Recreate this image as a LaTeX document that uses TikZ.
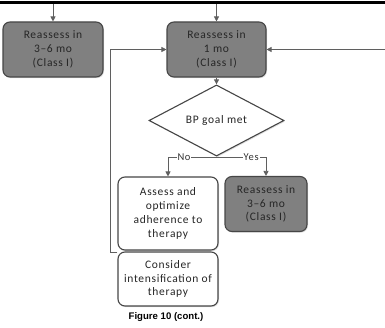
\documentclass[tikz,border=0pt]{standalone}
\usepackage{fontspec}
\setmainfont{Carlito}[LetterSpace=6]
\setsansfont{Liberation Sans}
\usetikzlibrary{shapes.geometric,arrows.meta,shadows}
\definecolor{boxgray}{RGB}{128,128,128}
\definecolor{edge}{RGB}{70,70,70}
\definecolor{wire}{RGB}{95,95,95}
\begin{document}
\begin{tikzpicture}[x=1pt,y=-1pt,
  box/.style={draw=edge,line width=1.1pt,rounded corners=7pt,align=center,inner sep=0pt,
    font=\fontsize{11.5}{13.8}\selectfont,text=black!85,
    drop shadow={shadow xshift=1pt,shadow yshift=-1.2pt,opacity=0.25}},
  darkbox/.style={box,fill=boxgray},
  lightbox/.style={box,fill=white},
  arr/.style={draw=wire,line width=0.8pt,-{Triangle[length=5pt,width=5pt]}},
  wire/.style={draw=wire,line width=0.8pt},
  lab/.style={fill=white,inner sep=1pt,font=\fontsize{10.5}{12}\selectfont,text=black!80}]
\useasboundingbox (0,0) rectangle (385,328);
\fill[black] (0,1) rectangle (385,4.5);
\node[darkbox,minimum width=100pt,minimum height=55pt] (left) at (53,49.5) {Reassess in\\3–6 mo\\(Class I)};
\node[darkbox,minimum width=99pt,minimum height=55pt] (center) at (216.5,49.5) {Reassess in\\1 mo\\(Class I)};
\node[diamond,draw=edge,line width=1.1pt,fill=white,minimum width=135pt,minimum height=53pt,inner sep=0pt,
  font=\fontsize{11.5}{13}\selectfont,text=black!85,drop shadow={shadow xshift=1pt,shadow yshift=-1.2pt,opacity=0.25}] (goal) at (216.5,120.5) {BP goal met};
\node[lightbox,minimum width=100pt,minimum height=73pt] (assess) at (168,213.5) {Assess and\\optimize\\adherence to\\therapy};
\node[darkbox,minimum width=82pt,minimum height=55pt] (right) at (266,204) {Reassess in\\3–6 mo\\(Class I)};
\node[lightbox,minimum width=100pt,minimum height=54pt] (consider) at (168,279) {Consider\\intensification of\\therapy};
\node[font=\sffamily\bfseries\fontsize{9.6}{11}\selectfont] (cap) at (166,317) {Figure 10 (cont.)};
\coordinate (topL) at (53,4.5);
\coordinate (topC) at (216.5,4.5);
\coordinate (rin) at (386,49.5);
\coordinate (split) at (216.5,157);
\draw[arr] (topL) -- (left.north);
\draw[arr] (topC) -- (center.north);
\draw[arr] (rin) -- (center.east);
\draw[arr] (center.south) -- (goal.north);
\draw[wire] (goal.south) -- (split);
\draw[arr] (split) -- node[lab,pos=0.7]{Yes} (split -| right.north) -- (right.north);
\draw[arr] (split) -- node[lab,pos=0.67]{No} (split -| assess.north) -- (assess.north);
\coordinate (aout) at ([yshift=-2pt]assess.south west);
\draw[arr] (aout) -- ++(-7,0) |- (center.west);
\end{tikzpicture}
\end{document}
